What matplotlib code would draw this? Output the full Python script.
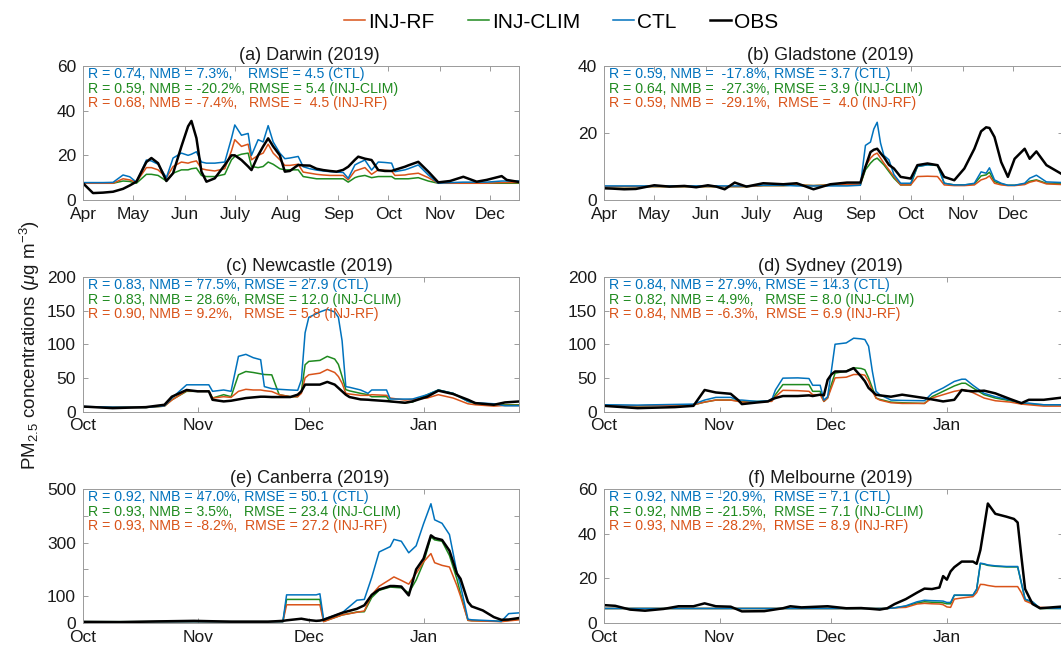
"""
PM2.5 time series at six Australian sites: observations vs. CTL / INJ-CLIM / INJ-RF runs.
"""
import numpy as np
import matplotlib
matplotlib.use("Agg")
import matplotlib.pyplot as plt

plt.rcParams['font.family'] = ['Liberation Sans', 'DejaVu Sans']
plt.rcParams['mathtext.fontset'] = 'custom'
plt.rcParams['mathtext.rm'] = 'Liberation Sans'
plt.rcParams['mathtext.it'] = 'Liberation Sans:italic'

# ---- data (days since the start of each panel) ----
# (a) Darwin, from 2019-04-01
days_a = [0, 6, 12, 18, 24, 28, 32, 38, 41, 45,
          50, 54, 59, 63, 65, 68, 71, 74, 79, 85,
          89, 91, 95, 99, 101, 105, 108, 111, 114, 118,
          121, 124, 129, 132, 136, 140, 144, 148, 152, 156,
          159, 163, 165, 169, 173, 177, 181, 185, 187, 193,
          195, 201, 207, 213, 220, 228, 236, 242, 251, 254,
          262]
obs_a = [7.5, 3.1, 3.3, 3.7, 5.0, 6.5, 8.2, 17.0, 18.8, 16.5,
         8.5, 12.0, 24.0, 33.0, 35.4, 27.7, 12.7, 8.2, 9.7, 15.7,
         20.0, 20.0, 17.9, 15.0, 13.4, 20.0, 24.0, 27.6, 24.0, 20.0,
         12.7, 13.0, 15.7, 15.5, 15.4, 14.0, 13.4, 13.0, 12.7, 13.5,
         14.9, 18.0, 19.4, 18.5, 17.9, 13.4, 13.0, 13.0, 13.5, 14.9,
         15.5, 17.1, 12.7, 7.9, 8.5, 10.4, 8.2, 9.0, 10.7, 9.0,
         8.0]
ctl_a = [7.8, 7.8, 7.8, 7.9, 11.2, 10.4, 8.0, 17.9, 17.5, 16.0,
         10.0, 18.8, 21.0, 20.0, 20.5, 21.6, 17.0, 16.5, 16.5, 17.0,
         27.6, 33.6, 29.0, 29.8, 20.0, 27.0, 26.0, 33.3, 26.0, 21.0,
         18.5, 18.8, 19.5, 14.9, 14.0, 13.4, 13.0, 12.7, 12.5, 12.3,
         9.7, 15.7, 16.5, 17.9, 13.4, 17.0, 16.8, 16.5, 12.7, 13.5,
         14.0, 15.7, 11.2, 7.5, 7.8, 8.0, 8.0, 8.0, 8.5, 8.5,
         8.5]
rf_a = [7.5, 7.5, 7.5, 7.5, 9.5, 9.0, 8.0, 14.5, 14.5, 13.5,
        10.0, 15.0, 17.0, 16.5, 17.0, 17.5, 14.0, 13.5, 13.0, 14.0,
        22.0, 27.0, 24.0, 25.0, 18.0, 20.0, 21.0, 25.0, 21.0, 18.0,
        15.5, 15.5, 16.0, 12.5, 12.0, 11.5, 11.2, 11.0, 11.0, 11.0,
        9.0, 13.0, 13.5, 14.5, 11.5, 13.5, 13.3, 13.0, 11.0, 11.2,
        11.5, 12.0, 10.0, 7.5, 7.5, 7.5, 7.5, 7.5, 7.8, 7.8,
        7.8]
clim_a = [7.5, 7.5, 7.5, 7.5, 8.5, 8.3, 7.5, 11.5, 11.5, 11.0,
          8.5, 12.0, 13.5, 13.5, 14.0, 14.3, 11.0, 10.5, 10.5, 11.5,
          18.0, 19.5, 20.5, 21.0, 15.0, 14.5, 15.0, 17.0, 16.0, 14.0,
          13.5, 13.5, 13.5, 10.5, 10.0, 9.5, 9.5, 9.5, 9.5, 9.5,
          8.0, 10.0, 10.5, 11.0, 10.0, 10.5, 10.5, 10.5, 9.5, 9.5,
          9.5, 10.0, 8.5, 7.5, 7.5, 7.5, 7.5, 7.5, 7.5, 7.5,
          7.5]

# (b) Gladstone, from 2019-04-01
days_b = [0, 5, 12, 19, 30, 39, 48, 55, 62, 67,
          72, 78, 85, 95, 107, 115, 125, 135, 145, 153,
          156, 159, 161, 163, 165, 167, 170, 173, 177, 183,
          187, 193, 199, 203, 209, 215, 221, 225, 228, 230,
          233, 237, 241, 245, 251, 254, 258, 264, 274]
obs_b = [3.5, 3.4, 3.2, 3.3, 4.4, 4.0, 4.2, 3.8, 4.4, 4.0,
         3.2, 5.2, 4.0, 5.0, 4.7, 5.0, 3.2, 4.7, 5.2, 5.2,
         9.9, 14.3, 15.0, 15.3, 14.0, 12.8, 10.5, 9.4, 6.9, 6.4,
         10.4, 10.9, 10.4, 6.9, 5.9, 9.4, 15.3, 20.5, 21.7, 21.5,
         18.8, 11.3, 6.9, 12.3, 15.3, 12.3, 14.5, 10.4, 7.5]
ctl_b = [4.2, 4.2, 4.2, 4.2, 4.2, 4.2, 4.2, 4.2, 4.2, 4.2,
         4.2, 4.2, 4.2, 4.4, 4.4, 4.2, 4.2, 4.2, 4.2, 4.4,
         16.3, 17.3, 21.2, 23.2, 17.0, 13.3, 12.0, 7.6, 5.0, 5.0,
         10.0, 10.5, 10.5, 5.0, 4.5, 4.5, 5.0, 8.4, 8.0, 9.6,
         6.0, 5.0, 4.4, 4.4, 5.0, 6.5, 7.4, 5.4, 5.2]
rf_b = [4.0, 4.0, 4.0, 4.0, 4.0, 4.0, 4.0, 4.0, 4.0, 4.0,
        4.0, 4.0, 4.0, 4.3, 4.3, 4.5, 4.3, 4.5, 4.6, 4.6,
        10.0, 12.5, 13.5, 14.0, 12.5, 11.0, 9.0, 7.0, 4.5, 4.5,
        7.0, 7.1, 7.0, 4.5, 4.3, 4.3, 4.5, 6.0, 6.5, 7.2,
        5.0, 4.5, 4.3, 4.3, 4.6, 5.3, 5.8, 4.8, 4.6]
clim_b = [4.0, 4.0, 4.0, 4.0, 4.0, 4.0, 4.0, 4.0, 4.0, 4.0,
          4.0, 4.0, 4.0, 4.3, 4.3, 4.5, 4.3, 4.5, 4.6, 4.6,
          9.0, 11.0, 12.0, 12.5, 11.5, 10.5, 8.5, 6.5, 4.5, 4.5,
          10.0, 10.5, 10.3, 5.0, 4.5, 4.5, 4.8, 7.2, 7.5, 8.3,
          5.5, 4.8, 4.4, 4.4, 4.8, 5.6, 6.0, 5.0, 4.8]

# (c) Newcastle, from 2019-10-01
days_c = [0, 8, 17, 22, 24, 28, 31, 34, 35, 38,
          40, 42, 44, 46, 48, 49, 51, 53, 56, 58,
          59, 60, 61, 64, 66, 68, 69, 70, 71, 72,
          75, 77, 78, 82, 83, 87, 89, 93, 96, 100,
          104, 106, 111, 114, 118]
obs_c = [7.4, 5.0, 6.5, 10.0, 22.0, 32.0, 30.0, 30.0, 17.4, 15.0,
         16.0, 18.0, 20.0, 21.0, 22.0, 22.0, 21.5, 21.5, 21.5, 25.0,
         30.0, 40.0, 40.0, 40.0, 44.0, 40.0, 35.0, 30.0, 25.0, 21.5,
         18.0, 17.5, 17.0, 15.5, 15.0, 13.0, 15.0, 22.0, 31.0, 26.0,
         17.5, 12.5, 10.0, 13.5, 15.0]
ctl_c = [7.4, 6.5, 6.0, 8.5, 20.0, 39.7, 39.7, 39.7, 30.0, 32.0,
         30.0, 82.0, 85.0, 80.0, 77.0, 37.0, 34.0, 33.0, 32.0, 31.5,
         47.0, 117.0, 140.0, 148.0, 152.0, 148.0, 140.0, 105.0, 37.0, 36.0,
         32.0, 27.0, 32.0, 32.0, 18.5, 18.5, 18.5, 25.0, 32.0, 27.0,
         15.0, 13.0, 11.5, 8.5, 8.5]
rf_c = [7.0, 6.5, 6.0, 8.0, 17.0, 31.0, 30.0, 30.0, 20.0, 22.0,
        21.0, 30.0, 33.0, 32.0, 32.0, 31.0, 29.7, 25.0, 22.0, 22.0,
        27.0, 50.0, 54.6, 57.0, 62.5, 58.0, 52.0, 42.0, 27.0, 26.0,
        24.0, 24.0, 25.0, 24.0, 20.0, 17.0, 18.0, 20.0, 25.0, 20.0,
        11.5, 10.0, 8.0, 9.0, 9.0]
clim_c = [7.0, 6.5, 6.0, 8.0, 17.4, 30.0, 30.0, 30.0, 20.0, 25.0,
          22.0, 54.6, 59.5, 58.0, 56.0, 55.0, 54.5, 25.0, 22.0, 22.0,
          30.0, 69.5, 74.5, 76.0, 82.0, 78.0, 70.0, 52.0, 32.5, 30.7,
          27.0, 25.0, 22.0, 22.0, 15.0, 13.0, 14.0, 25.0, 32.0, 27.0,
          15.0, 12.0, 10.0, 10.0, 10.0]

# (d) Sydney, from 2019-10-01
days_d = [0, 9, 19, 24, 27, 30, 34, 36, 37, 41,
          44, 45, 46, 48, 52, 55, 56, 58, 59, 60,
          61, 62, 65, 67, 69, 70, 71, 72, 73, 74,
          77, 80, 86, 88, 91, 94, 96, 97, 99, 102,
          105, 109, 112, 114, 118, 124]
obs_d = [8.4, 5.0, 6.5, 8.4, 32.0, 28.3, 26.3, 17.0, 11.0, 13.4,
         15.0, 18.0, 20.0, 23.0, 23.0, 24.0, 23.0, 25.0, 24.0, 47.0,
         55.0, 59.5, 59.5, 64.5, 52.0, 45.0, 35.0, 30.0, 25.0, 24.0,
         22.0, 25.0, 20.0, 18.0, 15.0, 17.4, 32.0, 31.0, 30.0, 31.0,
         27.0, 18.5, 12.4, 17.4, 17.4, 21.4]
ctl_d = [10.0, 9.5, 10.5, 11.0, 17.0, 21.0, 21.0, 17.0, 17.0, 15.0,
         16.0, 17.0, 32.0, 49.6, 50.0, 49.0, 39.0, 39.0, 17.0, 22.0,
         60.0, 100.0, 102.0, 109.0, 108.0, 107.0, 97.0, 60.0, 30.0, 25.0,
         17.0, 16.5, 16.0, 27.0, 35.0, 44.7, 48.0, 48.0, 39.0, 27.0,
         22.0, 17.0, 13.0, 12.4, 10.0, 10.0]
rf_d = [9.0, 8.5, 9.5, 10.0, 14.0, 17.0, 17.0, 15.0, 14.0, 14.0,
        15.0, 15.0, 22.0, 31.5, 31.0, 30.0, 25.0, 25.0, 15.0, 20.0,
        35.0, 50.0, 51.0, 55.0, 55.0, 54.0, 45.0, 30.0, 20.0, 17.0,
        13.0, 12.0, 12.0, 20.0, 25.0, 30.0, 32.0, 32.0, 28.0, 20.0,
        16.0, 14.0, 11.0, 10.0, 8.0, 8.0]
clim_d = [9.0, 8.5, 9.5, 10.0, 14.0, 17.0, 17.0, 16.0, 15.0, 15.0,
          15.0, 16.0, 25.0, 40.0, 40.0, 40.0, 30.0, 30.0, 15.0, 20.0,
          40.0, 57.0, 60.0, 65.0, 64.0, 62.0, 50.0, 35.0, 20.0, 18.0,
          14.0, 13.0, 12.0, 22.0, 30.0, 38.0, 42.0, 42.0, 35.0, 25.0,
          20.0, 16.0, 12.0, 11.0, 10.0, 10.0]

# (e) Canberra, from 2019-10-01
days_e = [0, 10, 20, 30, 40, 50, 54, 55, 59, 61,
          63, 64, 65, 70, 74, 76, 78, 80, 83, 84,
          86, 88, 90, 92, 94, 95, 97, 99, 101, 102,
          104, 105, 108, 111, 113, 115, 118]
obs_e = [4, 3, 6, 8, 5, 5, 8, 10, 16, 11,
         8, 9, 12, 38, 53, 66, 105, 125, 138, 138,
         136, 103, 200, 240, 327, 317, 310, 270, 185, 165,
         79, 62, 47, 22, 12, 13, 19]
ctl_e = [5, 5, 5, 5, 5, 5, 5, 105, 105, 105,
         105, 109, 14, 38, 85, 88, 170, 265, 285, 312,
         305, 262, 288, 370, 445, 385, 372, 330, 190, 140,
         14, 12, 10, 8, 6, 35, 38]
rf_e = [5, 5, 5, 5, 5, 5, 5, 68, 68, 68,
        68, 68, 5, 30, 40, 45, 105, 137, 163, 172,
        159, 145, 185, 228, 259, 225, 215, 209, 140, 100,
        10, 8, 7, 6, 5, 8, 12]
clim_e = [5, 5, 5, 5, 5, 5, 5, 88, 88, 88,
          88, 88, 6, 30, 41, 42, 95, 122, 134, 133,
          131, 112, 160, 225, 321, 310, 305, 252, 165, 110,
          10, 9, 8, 7, 6, 10, 15]

# (f) Melbourne, from 2019-10-01
days_f = [0, 3, 7, 11, 16, 20, 24, 27, 30, 34,
          37, 43, 48, 50, 53, 60, 65, 69, 74, 76,
          78, 81, 84, 86, 88, 90, 91, 92, 93, 94,
          96, 99, 100, 101, 102, 103, 105, 108, 110, 111,
          112, 113, 115, 117, 124]
obs_f = [8.0, 7.7, 6.0, 5.5, 6.3, 7.5, 7.5, 8.8, 7.5, 7.3,
         5.2, 5.3, 6.6, 7.5, 7.0, 7.5, 6.6, 6.7, 6.0, 6.6,
         8.5, 10.7, 13.6, 15.4, 15.2, 15.9, 21.0, 19.4, 23.1, 25.0,
         27.5, 27.5, 26.5, 32.7, 43.0, 53.5, 48.9, 47.6, 46.6, 45.0,
         29.7, 15.2, 8.5, 6.6, 7.5]
ctl_f = [6.5, 6.5, 6.5, 6.5, 6.5, 6.5, 6.5, 6.5, 6.5, 6.5,
         6.5, 6.5, 6.5, 6.5, 6.5, 6.5, 6.5, 6.5, 6.5, 6.5,
         6.8, 7.7, 9.5, 10.2, 10.0, 9.9, 9.8, 9.2, 9.2, 12.5,
         12.5, 12.5, 15.2, 26.8, 26.5, 26.0, 25.6, 25.3, 25.3, 25.3,
         18.0, 10.7, 9.5, 6.6, 6.5]
rf_f = [6.5, 6.5, 6.5, 6.5, 6.5, 6.5, 6.5, 6.5, 6.5, 6.5,
        6.5, 6.5, 6.5, 6.5, 6.5, 6.5, 6.5, 6.5, 6.5, 6.5,
        6.8, 7.0, 8.5, 8.8, 8.6, 8.5, 8.2, 7.2, 7.0, 10.7,
        11.2, 11.8, 13.6, 17.3, 17.2, 16.8, 16.3, 16.3, 16.3, 16.3,
        13.6, 9.9, 8.5, 7.0, 6.5]
clim_f = [6.5, 6.5, 6.5, 6.5, 6.5, 6.5, 6.5, 6.5, 6.5, 6.5,
          6.5, 6.5, 6.5, 6.5, 6.5, 6.5, 6.5, 6.5, 6.5, 6.5,
          6.8, 7.5, 9.0, 9.5, 9.3, 9.2, 9.0, 8.6, 8.6, 12.4,
          12.4, 12.4, 15.0, 26.6, 26.3, 25.8, 25.4, 25.1, 25.1, 25.1,
          17.8, 10.5, 9.3, 6.5, 6.5]

titles = ["(a) Darwin (2019)", "(b) Gladstone (2019)", "(c) Newcastle (2019)",
          "(d) Sydney (2019)", "(e) Canberra (2019)", "(f) Melbourne (2019)"]

stats_a = ["R = 0.74, NMB = 7.3%,    RMSE = 4.5 (CTL)",
           "R = 0.59, NMB = -20.2%, RMSE = 5.4 (INJ-CLIM)",
           "R = 0.68, NMB = -7.4%,   RMSE =  4.5 (INJ-RF)"]
stats_b = ["R = 0.59, NMB =  -17.8%, RMSE = 3.7 (CTL)",
           "R = 0.64, NMB =  -27.3%, RMSE = 3.9 (INJ-CLIM)",
           "R = 0.59, NMB =  -29.1%,  RMSE =  4.0 (INJ-RF)"]
stats_c = ["R = 0.83, NMB = 77.5%, RMSE = 27.9 (CTL)",
           "R = 0.83, NMB = 28.6%, RMSE = 12.0 (INJ-CLIM)",
           "R = 0.90, NMB = 9.2%,   RMSE = 5.8 (INJ-RF)"]
stats_d = ["R = 0.84, NMB = 27.9%, RMSE = 14.3 (CTL)",
           "R = 0.82, NMB = 4.9%,   RMSE = 8.0 (INJ-CLIM)",
           "R = 0.84, NMB = -6.3%,  RMSE = 6.9 (INJ-RF)"]
stats_e = ["R = 0.92, NMB = 47.0%, RMSE = 50.1 (CTL)",
           "R = 0.93, NMB = 3.5%,   RMSE = 23.4 (INJ-CLIM)",
           "R = 0.93, NMB = -8.2%,  RMSE = 27.2 (INJ-RF)"]
stats_f = ["R = 0.92, NMB = -20.9%,  RMSE = 7.1 (CTL)",
           "R = 0.92, NMB = -21.5%,  RMSE = 7.1 (INJ-CLIM)",
           "R = 0.93, NMB = -28.2%,  RMSE = 8.9 (INJ-RF)"]

months_top = ["2019-04-01", "2019-05-01", "2019-06-01", "2019-07-01", "2019-08-01",
              "2019-09-01", "2019-10-01", "2019-11-01", "2019-12-01"]
month_labels_top = ["Apr", "May", "Jun", "July", "Aug", "Sep", "Oct", "Nov", "Dec"]
months_low = ["2019-10-01", "2019-11-01", "2019-12-01", "2020-01-01"]
month_labels_low = ["Oct", "Nov", "Dec", "Jan"]

COLOURS = {"INJ-RF": "#d95319", "INJ-CLIM": "#1f8a1f", "CTL": "#0072bd", "OBS": "black"}
FIG_W, FIG_H = 1061, 648


def add_axes_px(fig, left, top, width, height):
    return fig.add_axes([left / FIG_W, 1 - (top + height) / FIG_H,
                         width / FIG_W, height / FIG_H])


def plot_panel(ax, start, days, series, xlim_days, months, month_labels,
               ylim, yticks, ytick_labels, title, title_x, stats):
    t0 = np.datetime64(start)
    dates = t0 + np.array(days).astype("timedelta64[D]")
    for name in ["INJ-CLIM", "INJ-RF", "CTL", "OBS"]:
        lw = 1.8 if name == "OBS" else 1.1
        ax.plot(dates, series[name], color=COLOURS[name], lw=lw, label=name)

    ax.set_xlim(t0, t0 + np.timedelta64(int(xlim_days * 24), "h"))
    ax.set_xticks(np.array(months, dtype="datetime64[D]"))
    ax.set_xticklabels(month_labels)
    ax.set_ylim(*ylim)
    ax.set_yticks(yticks)
    ax.set_yticklabels(ytick_labels)

    ax.tick_params(direction="in", top=True, right=True, length=3.5, width=0.6,
                   color="#8c8c8c", labelsize=12.5, labelcolor="#1a1a1a")
    ax.tick_params(axis="x", pad=5)
    ax.tick_params(axis="y", pad=5)
    for sp in ax.spines.values():
        sp.set_color("#9a9a9a")
        sp.set_linewidth(0.7)

    ax.set_title(title, fontsize=13, pad=4.5, x=title_x, color="#1a1a1a")
    for i, (txt, name) in enumerate(zip(stats, ["CTL", "INJ-CLIM", "INJ-RF"])):
        ax.annotate(txt, xy=(0, 1), xycoords="axes fraction",
                    xytext=(3.5, -1.0 - 10.4 * i), textcoords="offset points",
                    ha="left", va="top", fontsize=10.2, color=COLOURS[name])


def main():
    fig = plt.figure(figsize=(FIG_W / 100, FIG_H / 100), dpi=100)

    ax_a = add_axes_px(fig, 83, 66, 436, 134)
    ax_b = add_axes_px(fig, 604, 66, 459, 134)
    ax_c = add_axes_px(fig, 83, 277, 436, 134.5)
    ax_d = add_axes_px(fig, 604, 277, 459, 134.5)
    ax_e = add_axes_px(fig, 83, 489, 436, 134)
    ax_f = add_axes_px(fig, 604, 489, 459, 134)

    plot_panel(ax_a, "2019-04-01", days_a,
               {"OBS": obs_a, "CTL": ctl_a, "INJ-RF": rf_a, "INJ-CLIM": clim_a},
               261.4, months_top, month_labels_top, (0, 60), [0, 20, 40, 60],
               ["0", "20", "40", "60"], titles[0], 0.52, stats_a)
    plot_panel(ax_b, "2019-04-01", days_b,
               {"OBS": obs_b, "CTL": ctl_b, "INJ-RF": rf_b, "INJ-CLIM": clim_b},
               273.9, months_top, month_labels_top, (0, 40), [0, 20, 40],
               ["0", "20", "40"], titles[1], 0.493, stats_b)
    plot_panel(ax_c, "2019-10-01", days_c,
               {"OBS": obs_c, "CTL": ctl_c, "INJ-RF": rf_c, "INJ-CLIM": clim_c},
               117.8, months_low, month_labels_low, (0, 200), [0, 50, 100, 150, 200],
               ["0", "50", "100", "150", "200"], titles[2], 0.52, stats_c)
    plot_panel(ax_d, "2019-10-01", days_d,
               {"OBS": obs_d, "CTL": ctl_d, "INJ-RF": rf_d, "INJ-CLIM": clim_d},
               123.2, months_low, month_labels_low, (0, 200), [0, 50, 100, 150, 200],
               ["0", "50", "100", "150", "200"], titles[3], 0.493, stats_d)
    plot_panel(ax_e, "2019-10-01", days_e,
               {"OBS": obs_e, "CTL": ctl_e, "INJ-RF": rf_e, "INJ-CLIM": clim_e},
               117.8, months_low, month_labels_low, (0, 500), [0, 100, 200, 300, 400, 500],
               ["0", "100", "", "300", "", "500"], titles[4], 0.52, stats_e)
    plot_panel(ax_f, "2019-10-01", days_f,
               {"OBS": obs_f, "CTL": ctl_f, "INJ-RF": rf_f, "INJ-CLIM": clim_f},
               123.2, months_low, month_labels_low, (0, 60), [0, 20, 40, 60],
               ["0", "20", "40", "60"], titles[5], 0.493, stats_f)

    handles, labels = ax_a.get_legend_handles_labels()
    lookup = dict(zip(labels, handles))
    order = ["INJ-RF", "INJ-CLIM", "CTL", "OBS"]
    fig.legend([lookup[k] for k in order], order, loc="center",
               bbox_to_anchor=(0.529, 1 - 22 / FIG_H), ncol=4, frameon=False,
               fontsize=15, handlelength=1.0, handletextpad=0.15,
               columnspacing=1.6, borderpad=0.1)

    fig.text(30 / FIG_W, 1 - 345 / FIG_H,
             "PM$_{2.5}$ concentrations ($\\mu$g m$^{-3}$)",
             rotation=90, ha="center", va="center", fontsize=13.5, color="#1a1a1a")

    fig.savefig("out.png", dpi=100)


if __name__ == "__main__":
    main()
